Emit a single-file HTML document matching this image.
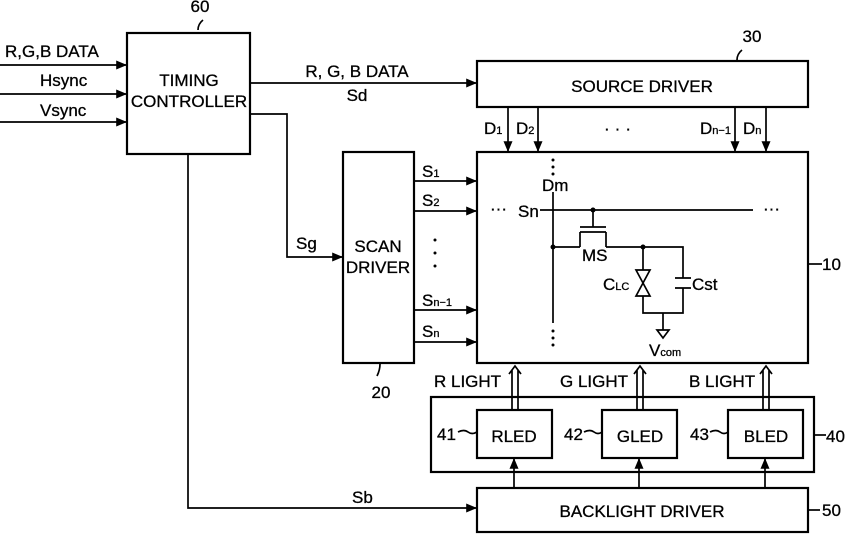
<!DOCTYPE html>
<html><head><style>body{margin:0;background:#fff}svg{display:block}text{font-family:"Liberation Sans",sans-serif;fill:#000;stroke:#000;stroke-width:0.3}</style></head><body>
<svg width="858" height="534" viewBox="0 0 858 534" xmlns="http://www.w3.org/2000/svg">
<defs><marker id="a" viewBox="0 0 12 10" refX="12" refY="5" markerWidth="12" markerHeight="9" orient="auto-start-reverse" markerUnits="userSpaceOnUse"><path d="M0,0L12,5L0,10z" fill="#000"/></marker></defs>
<g stroke="#000" stroke-width="2.2" fill="none">
<rect x="127" y="33" width="123" height="121"/>
<rect x="477" y="61" width="331" height="46"/>
<rect x="477" y="152" width="331" height="211"/>
<rect x="343" y="152" width="71" height="211"/>
<rect x="431" y="397" width="383" height="75"/>
<rect x="477" y="410" width="75" height="48"/>
<rect x="602" y="410" width="75" height="48"/>
<rect x="728" y="410" width="75" height="48"/>
<rect x="477" y="488" width="331" height="44"/>
</g>
<g stroke="#000" stroke-width="1.7" fill="none">
<line x1="0" y1="65" x2="127" y2="65" marker-end="url(#a)"/>
<line x1="0" y1="94" x2="127" y2="94" marker-end="url(#a)"/>
<line x1="0" y1="122" x2="127" y2="122" marker-end="url(#a)"/>
<line x1="250" y1="83" x2="477" y2="83" marker-end="url(#a)"/>
<polyline points="250,114 287,114 287,257 343,257" marker-end="url(#a)"/>
<polyline points="188,154 188,508 477,508" marker-end="url(#a)"/>
<line x1="508" y1="107" x2="508" y2="152" marker-end="url(#a)"/>
<line x1="538" y1="107" x2="538" y2="152" marker-end="url(#a)"/>
<line x1="735" y1="107" x2="735" y2="152" marker-end="url(#a)"/>
<line x1="766" y1="107" x2="766" y2="152" marker-end="url(#a)"/>
<line x1="414" y1="181" x2="477" y2="181" marker-end="url(#a)"/>
<line x1="414" y1="211" x2="477" y2="211" marker-end="url(#a)"/>
<line x1="414" y1="310" x2="477" y2="310" marker-end="url(#a)"/>
<line x1="414" y1="342" x2="477" y2="342" marker-end="url(#a)"/>
<line x1="514" y1="488" x2="514" y2="458" marker-end="url(#a)"/>
<line x1="639" y1="488" x2="639" y2="458" marker-end="url(#a)"/>
<line x1="765" y1="488" x2="765" y2="458" marker-end="url(#a)"/>
<path d="M512,410V370M518,410V370M509,374L515,366L521,374"/>
<path d="M637,410V370M643,410V370M634,374L640,366L646,374"/>
<path d="M763,410V370M769,410V370M760,374L766,366L772,374"/>
<line x1="553" y1="192" x2="553" y2="323"/>
<line x1="540" y1="210" x2="753" y2="210"/>
<path d="M593,210V227M580,227H606M580,232H606M580,232V247M606,232V247"/>
<path d="M553,247H580M606,247H683V278M683,288V313H643V247"/>
<path d="M675,278H691M675,288H691"/>
<path d="M663,313V330M657,330H669L663,338Z"/>
<path d="M198,30q0,-6 5,-10"/><path d="M737,60q0,-6 5,-10"/>
<path d="M380,364q0,6 -3,12"/>
<path d="M808,264H822"/><path d="M814,435H826"/><path d="M808,510H820"/>
<path d="M458,432q6,-3 10,0t9,0"/><path d="M584,432q6,-3 10,0t8,0"/><path d="M710,432q6,-3 10,0t8,0"/>
</g>
<path d="M636,270H650L643,283Z M636,296H650L643,283Z" fill="#fff" stroke="#000" stroke-width="1.7"/>
<g fill="#000"><circle cx="593" cy="210" r="2.5"/><circle cx="553" cy="247" r="2.5"/><circle cx="643" cy="247" r="2.5"/></g>
<g font-size="17">
<text x="200" y="12" text-anchor="middle">60</text>
<text x="752" y="42" text-anchor="middle">30</text>
<text x="5" y="57">R,G,B DATA</text>
<text x="40" y="86">Hsync</text>
<text x="40" y="116">Vsync</text>
<text x="189" y="86" text-anchor="middle">TIMING</text>
<text x="189" y="107" text-anchor="middle">CONTROLLER</text>
<text x="357" y="77" text-anchor="middle">R, G, B DATA</text>
<text x="357" y="101" text-anchor="middle">Sd</text>
<text x="642" y="92" text-anchor="middle">SOURCE DRIVER</text>
<text x="296" y="249">Sg</text>
<text x="378" y="252" text-anchor="middle">SCAN</text>
<text x="378" y="273" text-anchor="middle">DRIVER</text>
<text x="381" y="398" text-anchor="middle">20</text>
<text x="484" y="134">D<tspan font-size="11">1</tspan></text>
<text x="516" y="134">D<tspan font-size="11">2</tspan></text>
<text x="700" y="134">D<tspan font-size="11">n−1</tspan></text>
<text x="743" y="134">D<tspan font-size="11">n</tspan></text>
<text x="620" y="134" text-anchor="middle" letter-spacing="5">···</text>
<text x="422" y="177">S<tspan font-size="11">1</tspan></text>
<text x="422" y="206">S<tspan font-size="11">2</tspan></text>
<text x="422" y="306">S<tspan font-size="11">n−1</tspan></text>
<text x="422" y="337">S<tspan font-size="11">n</tspan></text>
<text x="542" y="191">Dm</text>
<text x="518" y="217">Sn</text>
<text x="490" y="214">···</text>
<text x="763" y="214">···</text>
<text x="582" y="261">MS</text>
<text x="603" y="290">C<tspan font-size="11">LC</tspan></text>
<text x="692" y="290">Cst</text>
<text x="649" y="356">V<tspan font-size="11">com</tspan></text>
<text x="822" y="270">10</text>
<text x="826" y="442">40</text>
<text x="822" y="516">50</text>
<text x="434" y="387">R LIGHT</text>
<text x="560" y="387">G LIGHT</text>
<text x="689" y="387">B LIGHT</text>
<text x="437" y="440">41</text><text x="564" y="440">42</text><text x="690" y="440">43</text>
<text x="514" y="442" text-anchor="middle">RLED</text>
<text x="640" y="442" text-anchor="middle">GLED</text>
<text x="766" y="442" text-anchor="middle">BLED</text>
<text x="642" y="517" text-anchor="middle">BACKLIGHT DRIVER</text>
<text x="352" y="503">Sb</text>
</g>
<g fill="#000"><circle cx="435" cy="240" r="1.5"/><circle cx="435" cy="253" r="1.5"/><circle cx="435" cy="266" r="1.5"/>
<circle cx="553" cy="160" r="1.5"/><circle cx="553" cy="167" r="1.5"/><circle cx="553" cy="174" r="1.5"/>
<circle cx="553" cy="331" r="1.5"/><circle cx="553" cy="338" r="1.5"/><circle cx="553" cy="345" r="1.5"/></g>
</svg>
</body></html>
